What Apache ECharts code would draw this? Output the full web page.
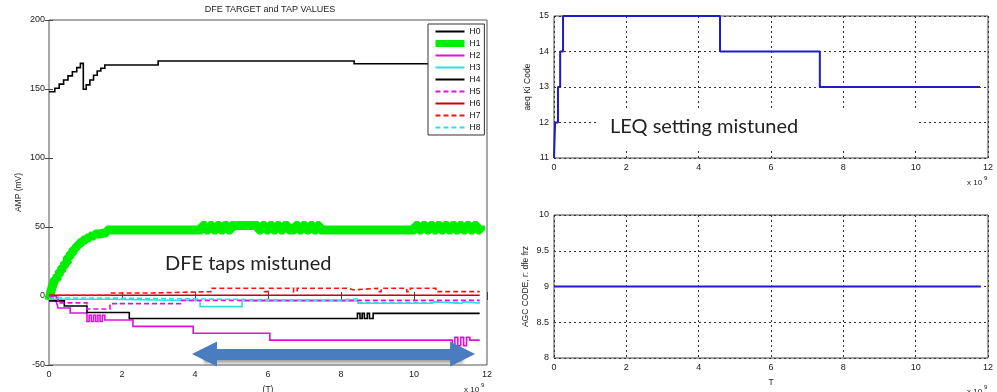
<!DOCTYPE html>
<html>
<head>
<meta charset="utf-8">
<script src="https://cdn.jsdelivr.net/npm/echarts@6/dist/echarts.min.js"></script>
<style>
html,body{margin:0;padding:0;background:#fff;}
#c{width:997px;height:392px;}
</style>
</head>
<body>
<div id="c"></div>
<script>
// ---------- DATA ----------
const tapNames = ['H0','H1','H2','H3','H4','H5','H6','H7','H8'];
const H0 = [[0,148],[0.16,150.5],[0.28,153.5],[0.4,156.5],[0.52,159.5],[0.64,162.5],[0.76,165.5],[0.86,168.6],[0.94,149.8],[1.02,153],[1.12,156.5],[1.22,160],[1.32,163],[1.42,165],[1.53,167.4],[2.99,170.3],[8.36,168.3],[11.8,168.3]];
const H1 = [[0,-3],[0.04,2],[0.08,6],[0.12,9],[0.16,12],[0.22,15],[0.28,18],[0.35,21],[0.42,24],[0.5,28],[0.58,31],[0.66,34],[0.74,36.5],[0.82,38.5],[0.92,40.5],[1.02,42],[1.12,43.5],[1.25,45],[1.4,46],[1.58,47.8],
  [4.19,51],[4.29,47.8],[4.39,51],[4.49,47.8],[4.59,51],[4.69,47.8],[4.79,51],[4.89,47.8],[4.99,51],
  [5.73,47.8],[5.83,51],[5.93,47.8],[6.03,51],[6.13,47.8],[6.23,51],[6.33,47.8],[6.43,51],[6.55,47.8],
  [6.74,51],[6.84,47.8],[6.94,51],[7.04,47.8],[7.14,51],[7.24,47.8],[7.34,51],[7.42,47.8],
  [10.03,51],[10.13,47.8],[10.23,51],[10.33,47.8],[10.43,51],[10.53,47.8],[10.63,51],[10.73,47.8],[10.83,51],[10.93,47.8],[11.03,51],[11.13,47.8],[11.23,51],[11.33,47.8],[11.43,51],[11.53,47.8],[11.63,51],[11.73,47.8],[11.82,51]];
const H2 = [[0,0],[0.2,-4.5],[0.25,-8.7],[0.58,-12.3],[1.04,-18.5],[1.1,-14],[1.16,-18.5],[1.22,-14],[1.28,-18.5],[1.34,-14],[1.4,-18.5],[1.46,-14],[1.53,-17.4],[2.3,-22],[3.95,-27],[6.05,-32],[11.05,-36],[11.12,-30],[11.2,-36],[11.28,-30],[11.36,-36],[11.44,-30],[11.53,-32],[11.8,-32]];
const H3 = [[0,-2.4],[1.67,-3.4],[4.14,-7.7],[5.29,-3.6],[8.47,-5.3],[10.5,-4.3],[10.56,-5.3],[11.3,-4.3],[11.36,-5.3],[11.8,-5.3]];
const H4 = [[0,-3.5],[0.42,-7.2],[1.04,-12],[2.2,-16.3],[8.45,-12.6],[8.52,-16.3],[8.58,-12.6],[8.64,-16.3],[8.72,-12.6],[8.78,-16.3],[8.88,-12.6],[11.8,-12.6]];
const H5 = [[0,-1],[0.25,-5],[1.04,-9.4],[1.67,-5.5],[3.6,-3.2],[11.8,-3.2]];
const H6 = [[0,0.5],[11.8,0.5]];
const H7 = [[0,0.5],[1.67,2.2],[2.85,3.2],[4.47,5.6],[5.9,3.2],[6.0,5.6],[6.7,3.2],[6.8,5.6],[8.2,4.4],[8.35,5.6],[9.0,3.2],[9.1,5.6],[9.8,3.2],[9.9,5.6],[10.6,3.2],[11.8,3.2]];
const H8 = [[0,-1.5],[1.67,-2.5],[5.4,-3],[8.0,-2],[8.47,-4.5],[11.8,-4.5]];
const arrowStart = [4.26,-42];
const arrowEnd = [11.33,-42];
const leqCode = [[0,11],[0.03,12],[0.11,13],[0.17,14],[0.25,15],[4.59,14],[7.35,13],[11.78,13]];
const agcCode = [[0,9],[11.8,9]];

// ---------- STYLE ----------
const tapColors = ['#000000','#00ee00','#e010e0','#30dede','#000000','#e010e0','#c80000','#ff1010','#30dede'];
const tapDash = ['solid','solid','solid','solid','solid',[5,3],'solid',[5,3],[5,3]];
const tapWidth = [1.6,9,1.6,1.6,1.6,1.6,1.6,1.6,1.6];
const legendWidth = [2,7,2,2,2,2,2,2,2];
const tick = {fontSize:9,color:'#222',fontFamily:'Liberation Sans, Arial, sans-serif'};
const nameStyle = {fontSize:8.5,color:'#222',fontFamily:'Liberation Sans, Arial, sans-serif'};

const chart = echarts.init(document.getElementById('c'), null, {renderer:'canvas'});

const series = tapNames.map((n,i)=>({
  name:n, type:'line', xAxisIndex:0, yAxisIndex:0, step:'end', showSymbol:false, symbol:'none',
  data: [H0,H1,H2,H3,H4,H5,H6,H7,H8][i],
  lineStyle:{color:tapColors[i], width:tapWidth[i], type:tapDash[i], cap:'butt', join: i===1?'bevel':'miter'},
  itemStyle:{color:tapColors[i]},
  silent:true, z: 2
}));
series[8].markLine = {
  silent:true, symbol:['triangle','triangle'], symbolSize:[25,25],
  label:{show:false},
  lineStyle:{color:'#4a7dc0', width:11, type:'solid', shadowColor:'rgba(90,90,90,0.55)', shadowOffsetY:3, shadowBlur:3},
  itemStyle:{color:'#4a7dc0'},
  emphasis:{disabled:true},
  data:[[{coord:arrowStart},{coord:arrowEnd}]]
};
series.push({type:'line', xAxisIndex:2, yAxisIndex:2, step:'end', showSymbol:false, symbol:'none', data:leqCode, lineStyle:{color:'#1c1cc8', width:2}, silent:true});
series.push({type:'line', xAxisIndex:3, yAxisIndex:3, showSymbol:false, symbol:'none', data:agcCode, lineStyle:{color:'#1c1cc8', width:2}, silent:true});

const dotted = {show:true, lineStyle:{color:'#333', type:[2,3], width:1}};
const inTick = {show:true, inside:true, length:4, lineStyle:{color:'#444'}};

const option = {
  animation:false,
  backgroundColor:'#fff',
  grid:[
    {left:49, right:510, top:20, bottom:27, show:true, borderColor:'#555', borderWidth:1, outerBoundsMode:'none', containLabel:false},
    {left:554, right:9, top:16, bottom:234, show:true, borderColor:'#444', borderWidth:1, outerBoundsMode:'none', containLabel:false},
    {left:554, right:9, top:215, bottom:34, show:true, borderColor:'#444', borderWidth:1, outerBoundsMode:'none', containLabel:false}
  ],
  xAxis:[
    {gridIndex:0, type:'value', min:0, max:12, interval:2, position:'bottom', axisLine:{show:false}, axisTick:inTick, splitLine:{show:false}, axisLabel:Object.assign({margin:5},tick), name:'(T)', nameLocation:'middle', nameGap:20, nameTextStyle:nameStyle},
    {gridIndex:0, type:'value', min:0, max:12, interval:2, position:'top', axisLine:{show:false}, axisTick:inTick, splitLine:{show:false}, axisLabel:{show:false}},
    {gridIndex:1, type:'value', min:0, max:12, interval:2, axisLine:{show:false}, axisTick:{show:false}, splitLine:dotted, axisLabel:Object.assign({margin:5},tick)},
    {gridIndex:2, type:'value', min:0, max:12, interval:2, axisLine:{show:false}, axisTick:{show:false}, splitLine:dotted, axisLabel:Object.assign({margin:5},tick), name:'T', nameLocation:'middle', nameGap:20, nameTextStyle:nameStyle}
  ],
  yAxis:[
    {gridIndex:0, type:'value', min:-50, max:200, interval:50, axisLine:{show:false}, axisTick:inTick, splitLine:{show:false}, axisLabel:Object.assign({margin:4},tick), name:'AMP (mV)', nameLocation:'middle', nameGap:26, nameTextStyle:nameStyle},
    {gridIndex:0, type:'value', min:-50, max:200, interval:50, position:'right', axisLine:{show:false}, axisTick:inTick, splitLine:{show:false}, axisLabel:{show:false}},
    {gridIndex:1, type:'value', min:11, max:15, interval:1, axisLine:{show:false}, axisTick:{show:false}, splitLine:dotted, axisLabel:Object.assign({margin:5},tick), name:'aeq Ki Code', nameLocation:'middle', nameGap:22, nameTextStyle:nameStyle},
    {gridIndex:2, type:'value', min:8, max:10, interval:0.5, axisLine:{show:false}, axisTick:{show:false}, splitLine:dotted, axisLabel:Object.assign({margin:5},tick), name:'AGC CODE, r: dfe frz', nameLocation:'middle', nameGap:24, nameTextStyle:nameStyle}
  ],
  legend:{
    data:tapNames.map((n,i)=>({name:n, lineStyle:{width:legendWidth[i]}})),
    orient:'vertical', left:428, top:24, itemWidth:29, itemHeight:10, itemGap:3,
    padding:[3,4,3,4], backgroundColor:'#fff', borderColor:'#333', borderWidth:1, borderRadius:0,
    itemStyle:{opacity:0, borderWidth:0},
    textStyle:{fontSize:8.5, color:'#111', fontFamily:'Liberation Sans, Arial, sans-serif'},
    selectedMode:false
  },
  graphic:[
    {type:'text', x:270, y:10, style:{text:'DFE TARGET and TAP VALUES', align:'center', verticalAlign:'middle', fill:'#222', font:'9px "Liberation Sans", Arial, sans-serif'}},
    {type:'text', x:165, y:264, style:{text:'DFE taps mistuned', align:'left', verticalAlign:'middle', fill:'#222', font:'20px Lato, "Open Sans", sans-serif'}, z:60},
    {type:'rect', shape:{x:598, y:108, width:318, height:40}, style:{fill:'#fff'}, z:50},
    {type:'text', x:610, y:127, style:{text:'LEQ setting mistuned', align:'left', verticalAlign:'middle', fill:'#222', font:'20px Lato, "Open Sans", sans-serif'}, z:60},
    {type:'text', x:464, y:386, style:{text:'x 10', fill:'#222', font:'8px "Liberation Sans", Arial, sans-serif', verticalAlign:'top'}},
    {type:'text', x:481, y:382, style:{text:'9', fill:'#222', font:'6px "Liberation Sans", Arial, sans-serif', verticalAlign:'top'}},
    {type:'text', x:967, y:179, style:{text:'x 10', fill:'#222', font:'8px "Liberation Sans", Arial, sans-serif', verticalAlign:'top'}},
    {type:'text', x:984, y:175, style:{text:'9', fill:'#222', font:'6px "Liberation Sans", Arial, sans-serif', verticalAlign:'top'}},
    {type:'text', x:967, y:388, style:{text:'x 10', fill:'#222', font:'8px "Liberation Sans", Arial, sans-serif', verticalAlign:'top'}},
    {type:'text', x:984, y:384, style:{text:'9', fill:'#222', font:'6px "Liberation Sans", Arial, sans-serif', verticalAlign:'top'}}
  ],
  series:series
};
chart.setOption(option);
</script>
</body>
</html>
